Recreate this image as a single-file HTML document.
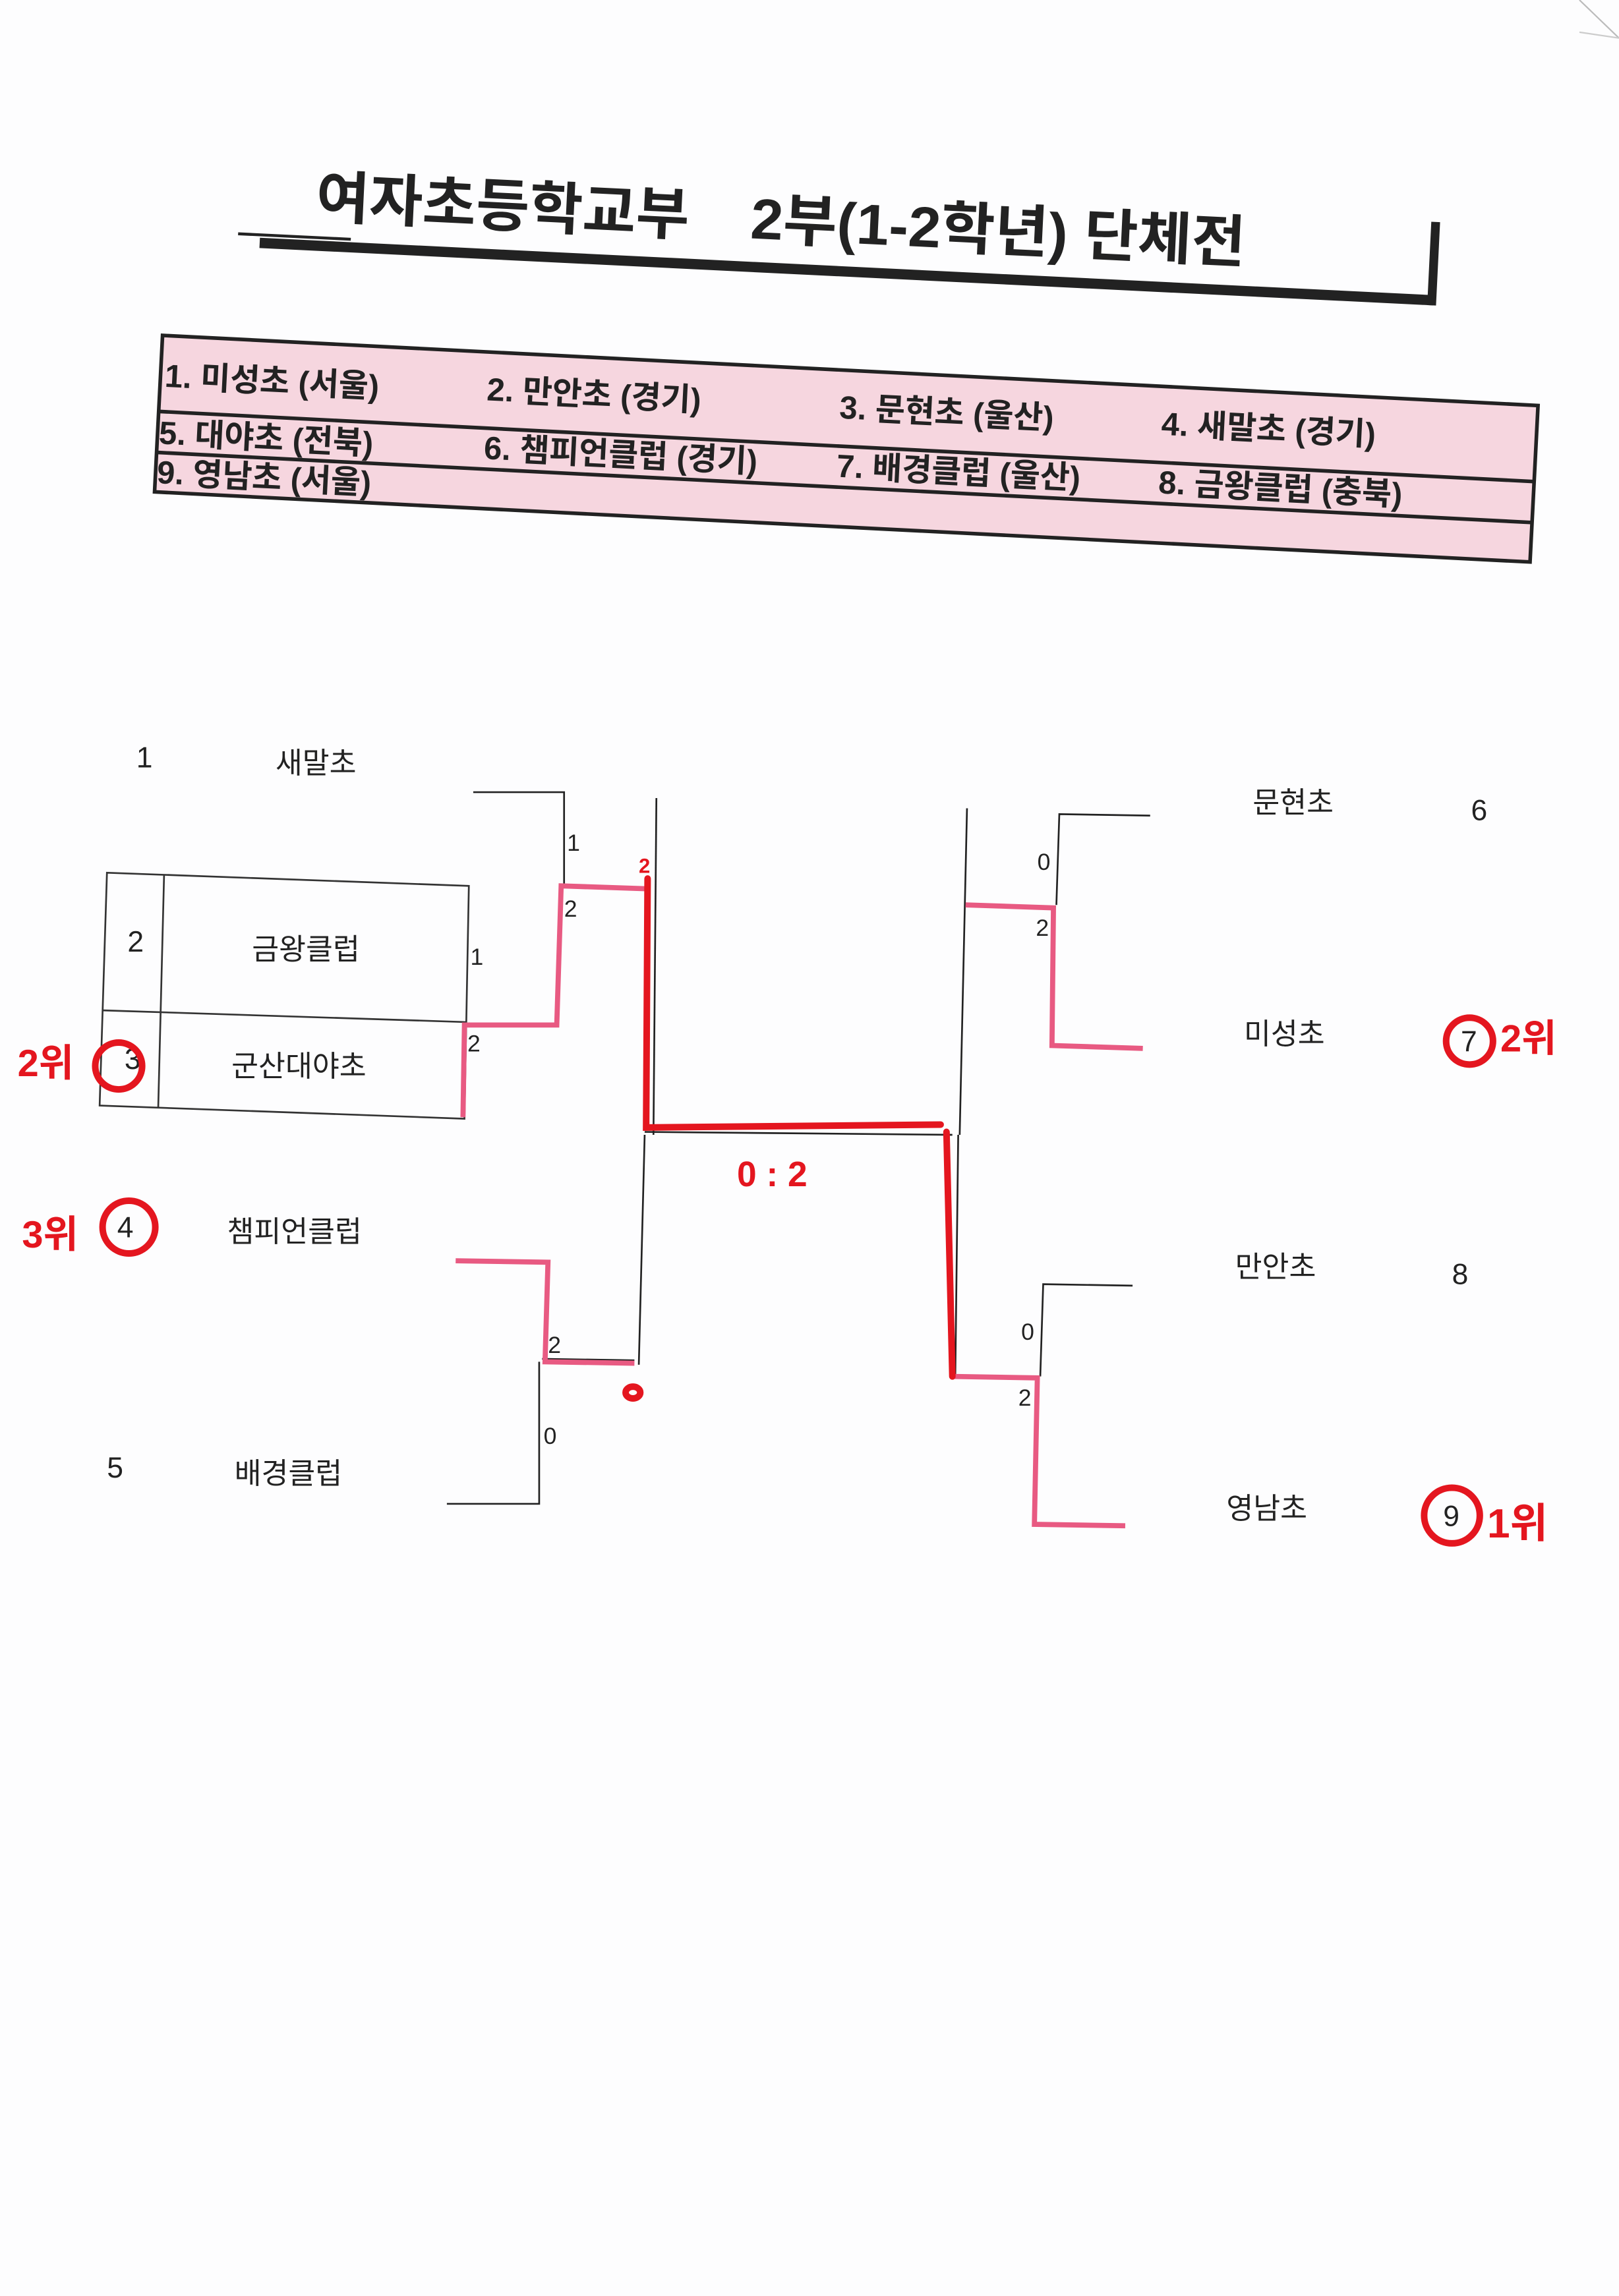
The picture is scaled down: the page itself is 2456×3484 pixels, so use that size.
<!DOCTYPE html>
<html><head><meta charset="utf-8">
<style>
html,body{margin:0;padding:0;background:#fff;}
svg{display:block;}
text{font-family:"Liberation Sans","Noto Sans CJK KR","NanumGothic",sans-serif;}
</style></head>
<body>
<svg width="2456" height="3484" viewBox="0 0 1105 1568" preserveAspectRatio="none" xmlns="http://www.w3.org/2000/svg">
<rect width="1105" height="1568" fill="#fdfdfe"/>
<line x1="1078" y1="0" x2="1105" y2="26" stroke="#bbb" stroke-width="1"/>
<line x1="1078" y1="22" x2="1105" y2="26" stroke="#ccc" stroke-width="1"/>

<!-- Title -->
<g transform="rotate(2.8 170 150)">
  <text x="215" y="146" font-size="39" font-weight="bold" fill="#222" textLength="255" lengthAdjust="spacingAndGlyphs">여자초등학교부</text>
  <text x="512" y="146" font-size="39" font-weight="bold" fill="#222" textLength="338" lengthAdjust="spacingAndGlyphs">2부(1-2학년) 단체전</text>
  <line x1="163" y1="160" x2="240" y2="160" stroke="#222" stroke-width="2"/>
  <rect x="178" y="162" width="802" height="7" fill="#222"/>
  <rect x="976" y="112" width="6" height="57" fill="#222"/>
</g>

<!-- Team table -->
<g transform="rotate(2.92 110 228)">
  <rect x="111" y="229" width="940" height="107" fill="#f6d6df" stroke="#222" stroke-width="2.5"/>
  <line x1="111" y1="281" x2="1051" y2="281" stroke="#222" stroke-width="2.5"/>
  <line x1="111" y1="309" x2="1051" y2="309" stroke="#222" stroke-width="2.5"/>
  <g font-size="22" font-weight="bold" fill="#222">
    <text x="114" y="264">1. 미성초 (서울)</text>
    <text x="334" y="262">2. 만안초 (경기)</text>
    <text x="575" y="262">3. 문현초 (울산)</text>
    <text x="795" y="262">4. 새말초 (경기)</text>
    <text x="112" y="303">5. 대야초 (전북)</text>
    <text x="334" y="302">6. 챔피언클럽 (경기)</text>
    <text x="575" y="302">7. 배경클럽 (울산)</text>
    <text x="795" y="302">8. 금왕클럽 (충북)</text>
    <text x="112" y="330">9. 영남초 (서울)</text>
  </g>
</g>

<!-- Left side labels -->
<g font-size="20" fill="#222">
  <text x="93" y="524">1</text>
  <text x="188" y="528">새말초</text>
  <text x="87" y="650">2</text>
  <text x="172" y="655">금왕클럽</text>
  <text x="85" y="730">3</text>
  <text x="158" y="735">군산대야초</text>
  <text x="80" y="845">4</text>
  <text x="155" y="848">챔피언클럽</text>
  <text x="73" y="1009">5</text>
  <text x="160" y="1013">배경클럽</text>
</g>
<g font-size="16" fill="#222">
  <text x="387" y="581">1</text>
  <text x="385" y="626">2</text>
  <text x="321" y="659">1</text>
  <text x="319" y="718">2</text>
  <text x="374" y="924">2</text>
  <text x="371" y="986">0</text>
  <text x="708" y="594">0</text>
  <text x="707" y="639">2</text>
  <text x="697" y="915">0</text>
  <text x="695" y="960">2</text>
</g>

<!-- Box -->
<g stroke="#333" stroke-width="1.2" fill="none">
  <polygon points="73,596 320,605 317,764 68,755"/>
  <line x1="70" y1="690" x2="318" y2="698"/>
  <line x1="112" y1="597" x2="108" y2="756"/>
</g>

<!-- Bracket black -->
<g stroke="#222" stroke-width="1.2" fill="none">
  <polyline points="323,541 385,541 385,605"/>
  <line x1="448" y1="545" x2="446" y2="775"/>
  <line x1="440" y1="775" x2="436" y2="932"/>
  <line x1="440" y1="773" x2="650" y2="775"/>
  <polyline points="370,928 433,929"/>
  <polyline points="368,930 368,1027 305,1027"/>
  <line x1="660" y1="552" x2="655" y2="775"/>
  <line x1="654" y1="775" x2="652" y2="940"/>
  <polyline points="785,557 723,556 721,618"/>
  <polyline points="773,878 712,877 710,940"/>
</g>

<!-- Pink lines -->
<g stroke="#e85a82" stroke-width="3.5" fill="none">
  <polyline points="443,607 383,605 380,700 317,700 316,763"/>
  <polyline points="311,861 374,862 372,930 433,931"/>
  <polyline points="659,618 719,620 718,714 780,716"/>
  <polyline points="650,940 708,941 706,1041 768,1042"/>
</g>

<!-- Red annotations -->
<g stroke="#e4161f" stroke-width="4.5" fill="none" stroke-linecap="round">
  <polyline points="442,600 441,770 642,768"/>
  <line x1="646" y1="773" x2="650" y2="940"/>
  <circle cx="81" cy="728" r="16"/>
  <circle cx="88" cy="838" r="18"/>
  <circle cx="1003" cy="711" r="16"/>
  <circle cx="991" cy="1035" r="19"/>
  <ellipse cx="432" cy="951" rx="5" ry="4"/>
</g>
<g fill="#e4161f" font-weight="bold">
  <text x="436" y="596" font-size="14">2</text>
  <text x="503" y="810" font-size="24">0 : 2</text>
  <text x="12" y="735" font-size="26">2위</text>
  <text x="15" y="852" font-size="26">3위</text>
  <text x="1024" y="718" font-size="26">2위</text>
  <text x="1015" y="1050" font-size="28">1위</text>
</g>

<!-- Right side labels -->
<g font-size="20" fill="#222">
  <text x="855" y="555">문현초</text>
  <text x="1004" y="560">6</text>
  <text x="849" y="713">미성초</text>
  <text x="997" y="718">7</text>
  <text x="843" y="872">만안초</text>
  <text x="991" y="877">8</text>
  <text x="837" y="1037">영남초</text>
  <text x="985" y="1042">9</text>
</g>
</svg>
</body></html>
